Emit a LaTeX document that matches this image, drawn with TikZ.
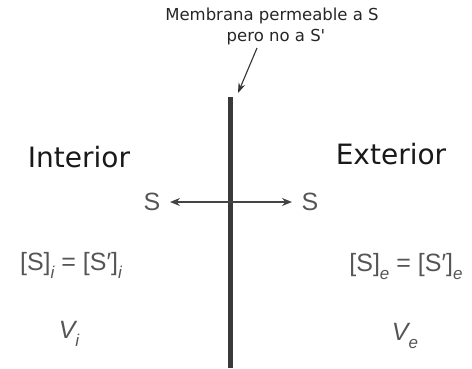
\documentclass[tikz,border=0pt]{standalone}
\usepackage{fontspec}
\setmainfont{DejaVu Sans}
\newfontfamily\frm{Liberation Sans}
\usetikzlibrary{arrows.meta}
\definecolor{memb}{HTML}{3A3A3A}
\definecolor{txtg}{HTML}{555555}
\definecolor{arrg}{HTML}{444444}
\newcommand{\lsub}[1]{\raisebox{-0.32em}{\fontsize{17}{17}\selectfont\itshape #1}}
\tikzset{
  region/.style={font=\fontsize{28}{34}\selectfont, text=black!90, anchor=base, inner sep=0pt},
  formula/.style={font=\frm\fontsize{25}{30}\selectfont, text=txtg, anchor=base, inner sep=0pt},
  sarrow/.style={draw=arrg, line width=1.3pt, -{Stealth[length=10pt,width=8pt]}},
  labarrow/.style={draw=black!80, line width=1.1pt, -{Stealth[length=10pt,width=7pt]}},
}
\begin{document}
\begin{tikzpicture}[x=1pt,y=-1pt]
\useasboundingbox (0,0) rectangle (472,368);
% membrane
\coordinate (mtop) at (230,97);
\coordinate (mbot) at (230,368);
\coordinate (mid) at (230,202);
\draw[memb, line width=5pt] (mtop) -- (mbot);
% top label
\node[font=\fontsize{16.5}{21}\selectfont, text=black!85, align=center, anchor=north, inner sep=0pt] (lbl) at (272,8) {Membrana permeable a S\\ \hspace*{8pt}pero no a S\textquotesingle};
\coordinate (lstart) at (257,48);
\coordinate (ltip) at (238,93);
\draw[labarrow] (lstart) -- (ltip);
% regions
\node[region] (int) at (79,167) {Interior};
\node[region] (ext) at (391,164) {Exterior};
% S arrows
\node[formula] (sl) at (152,210) {S};
\node[formula] (sr) at (310,210) {S};
\coordinate (tl) at (170,202);
\coordinate (tr) at (292,202);
\draw[sarrow] (mid) -- (tl);
\draw[sarrow] (mid) -- (tr);
% formulas
\node[formula] (fl) at (71,270) {[S]\lsub{i} = [S′]\lsub{i}};
\node[formula] (fr) at (406,271) {[S]\lsub{e} = [S′]\lsub{e}};
\node[formula] (vi) at (69,338) {\itshape V\lsub{i}};
\node[formula] (ve) at (405,340) {\itshape V\lsub{e}};
\end{tikzpicture}
\end{document}
